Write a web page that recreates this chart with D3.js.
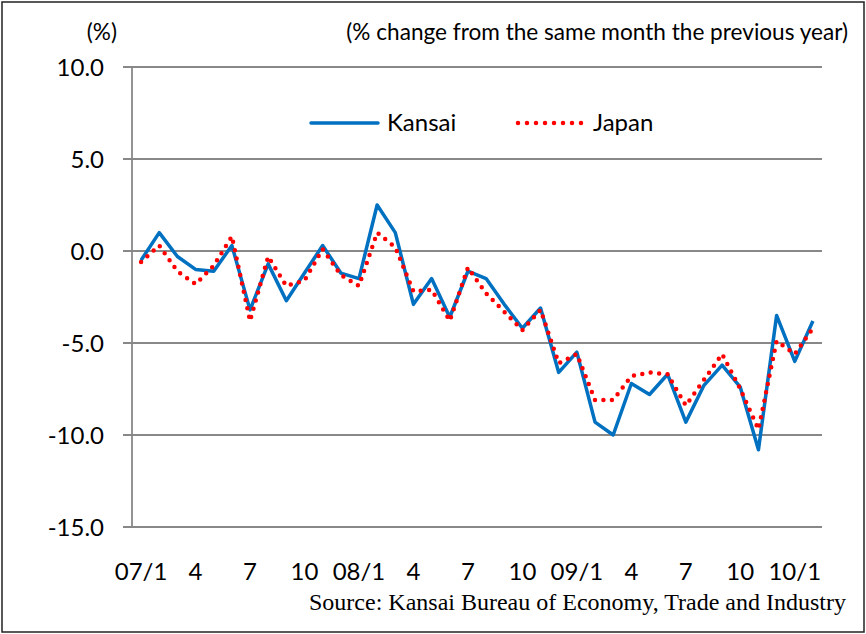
<!DOCTYPE html>
<html>
<head>
<meta charset="utf-8">
<script src="https://cdn.jsdelivr.net/npm/d3@7"></script>
<style>
  body { margin: 0; background: #fff; }
  text { font-family: Lato, "Open Sans", sans-serif; fill: #000; }
</style>
</head>
<body>
<div id="chart"></div>
<script>
// Kansai vs Japan, % change from same month previous year

var months = ["07/1","2","3","4","5","6","7","8","9","10","11","12",
              "08/1","2","3","4","5","6","7","8","9","10","11","12",
              "09/1","2","3","4","5","6","7","8","9","10","11","12",
              "10/1","2"]

var kansai = [-0.5, 1.0, -0.3, -1.0, -1.1, 0.3, -3.2, -0.7, -2.7, -1.2, 0.3, -1.2,
              -1.5, 2.5, 1.0, -2.9, -1.5, -3.6, -1.1, -1.5, -2.9, -4.2, -3.1, -6.6,
              -5.5, -9.3, -10.0, -7.2, -7.8, -6.7, -9.3, -7.3, -6.2, -7.4, -10.8, -3.5,
              -6.0, -3.8]

var japan = [-0.6, 0.3, -1.1, -1.8, -0.8, 0.8, -3.8, -0.3, -1.9, -1.6, 0.1, -1.3,
             -1.9, 1.0, 0.2, -2.2, -2.1, -3.8, -0.9, -2.3, -3.3, -4.3, -3.2, -6.1,
             -5.6, -8.1, -8.1, -6.8, -6.6, -6.7, -8.4, -7.0, -5.6, -7.5, -9.7, -4.9,
             -5.6, -4.2]

var tickIdx = [0, 3, 6, 9, 12, 15, 18, 21, 24, 27, 30, 33, 36]
var tickLabels = ["07/1","4","7","10","08/1","4","7","10","09/1","4","7","10","10/1"]
var yTicks = [10, 5, 0, -5, -10, -15]

var width = 866, height = 634

var svg = d3.select("#chart").append("svg")
    .attr("width", width)
    .attr("height", height)

// outer frame
svg.append("rect")
  .attr("x", 2).attr("y", 2)
  .attr("width", width - 4).attr("height", height - 4)
  .attr("fill", "none")
  .attr("stroke", "#222")
  .attr("stroke-width", 1.5)

var plotLeft = 132, plotRight = 822, plotTop = 67, plotBottom = 527

var x = d3.scalePoint()
  .domain(d3.range(months.length))
  .range([plotLeft, plotRight])
  .padding(0.5)

var y = d3.scaleLinear()
  .domain([-15, 10])
  .range([plotBottom, plotTop])

// gridlines + y labels
svg.selectAll(".grid")
  .data(yTicks)
  .enter().append("line")
  .attr("class", "grid")
  .attr("x1", plotLeft - 9)
  .attr("x2", plotRight)
  .attr("y1", function(d){ return y(d) })
  .attr("y2", function(d){ return y(d) })
  .attr("stroke", "#888")
  .attr("stroke-width", 1.8)

svg.append("line")
  .attr("x1", plotLeft).attr("x2", plotLeft)
  .attr("y1", plotTop).attr("y2", plotBottom)
  .attr("stroke", "#888")
  .attr("stroke-width", 1.8)

svg.selectAll(".ylab")
  .data(yTicks)
  .enter().append("text")
  .attr("class", "ylab")
  .attr("x", 104)
  .attr("y", function(d){ return y(d) + 8.5 })
  .attr("text-anchor", "end")
  .attr("font-size", 24)
  .text(function(d){ return d.toFixed(1) })

// x labels
svg.selectAll(".xlab")
  .data(tickIdx)
  .enter().append("text")
  .attr("class", "xlab")
  .attr("x", function(d){ return x(d) })
  .attr("y", 580)
  .attr("text-anchor", "middle")
  .attr("font-size", 24)
  .text(function(d, i){ return tickLabels[i] })

// lines
var line = d3.line()
  .x(function(d, i){ return x(i) })
  .y(function(d){ return y(d) })

svg.append("path")
  .datum(kansai)
  .attr("d", line)
  .attr("fill", "none")
  .attr("stroke", "#0070C0")
  .attr("stroke-width", 3.5)
  .attr("stroke-linejoin", "round")

svg.append("path")
  .datum(japan)
  .attr("d", line)
  .attr("fill", "none")
  .attr("stroke", "#FF0000")
  .attr("stroke-width", 4.5)
  .attr("stroke-linecap", "round")
  .attr("stroke-dasharray", "0,8.5")

// legend
svg.append("line")
  .attr("x1", 311).attr("x2", 378)
  .attr("y1", 123).attr("y2", 123)
  .attr("stroke", "#0070C0")
  .attr("stroke-width", 3.5)
  .attr("stroke-linecap", "round")
svg.append("text")
  .attr("x", 387).attr("y", 131)
  .attr("font-size", 24)
  .text("Kansai")

svg.append("line")
  .attr("x1", 518).attr("x2", 582)
  .attr("y1", 123).attr("y2", 123)
  .attr("stroke", "#FF0000")
  .attr("stroke-width", 4.5)
  .attr("stroke-linecap", "round")
  .attr("stroke-dasharray", "0,9")
svg.append("text")
  .attr("x", 593).attr("y", 131)
  .attr("font-size", 24)
  .text("Japan")

// titles
svg.append("text")
  .attr("x", 117).attr("y", 40)
  .attr("text-anchor", "end")
  .attr("font-size", 22.6)
  .text("(%)")

svg.append("text")
  .attr("x", 848).attr("y", 40)
  .attr("text-anchor", "end")
  .attr("font-size", 22.6)
  .text("(% change from the same month the previous year)")

svg.append("text")
  .attr("x", 846).attr("y", 610)
  .attr("text-anchor", "end")
  .attr("font-size", 24)
  .style("font-family", "'Liberation Serif', 'Times New Roman', serif")
  .text("Source: Kansai Bureau of Economy, Trade and Industry")
</script>
</body>
</html>
